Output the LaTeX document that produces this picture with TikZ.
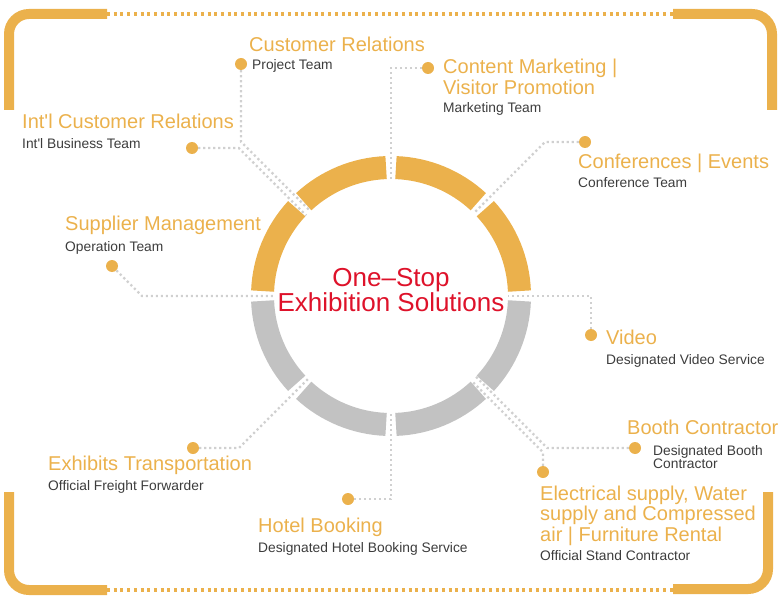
\documentclass[tikz,border=0pt]{standalone}
\usepackage{fontspec}
\setmainfont{Liberation Sans}
\usetikzlibrary{calc}
\definecolor{expoOrange}{RGB}{235,177,76}
\definecolor{expoGray}{RGB}{194,194,194}
\definecolor{expoRed}{RGB}{222,18,42}
\definecolor{expoText}{RGB}{60,60,60}
\definecolor{linkGray}{RGB}{208,208,208}

\begin{document}
\begin{tikzpicture}[
    x=1pt, y=-1pt,
    lbl/.style={anchor=base west, inner sep=0pt, text=expoOrange, align=left,
                font=\fontsize{20}{20.5}\selectfont},
    team/.style={anchor=base west, inner sep=0pt, text=expoText, align=left,
                 font=\fontsize{13.8}{13}\selectfont},
    hub/.style={circle, fill=expoOrange, minimum size=12pt, inner sep=0pt},
    link/.style={draw=linkGray, line width=2.2pt, dash pattern=on 2.2pt off 2.8pt},
    bracket/.style={draw=expoOrange, line width=10pt, rounded corners=20pt},
    rim/.style={draw=expoOrange, line width=3.2pt, dash pattern=on 3pt off 3.7pt}
]
\path[use as bounding box] (0,0) rectangle (781,604);

% ---- outer frame ----
\draw[bracket] (9,110) |- (107,14);
\draw[bracket] (673,14) -| (772,110);
\draw[bracket] (9,492) |- (107,590);
\draw[bracket] (673,589) -| (768,492);
\draw[rim] (107,14) -- (673,14);
\draw[rim] (107,590) -- (673,590);

% ---- ring, upper half orange, lower half gray ----
\coordinate (C) at (391,296);
\foreach \a/\col in {-180/expoOrange, -135/expoOrange, -90/expoOrange, -45/expoOrange,
                     0/expoGray, 45/expoGray, 90/expoGray, 135/expoGray}{%
  \draw[\col, line width=23pt] ($(C)+(\a+2.2:128.5)$)
      arc[start angle=\a+2.2, end angle=\a+42.8, radius=128.5];
}
\node[text=expoRed, align=center, font=\fontsize{26}{25}\selectfont] (core) at (391,290)
     {One--Stop\\Exhibition Solutions};

% ---- gap ends on the inner rim ----
\coordinate (g0)  at (508,296);
\coordinate (g45) at (473.7,213.3);
\coordinate (g90) at (391,179);
\coordinate (g135a) at (310.4,211.2);
\coordinate (g135b) at (306.2,215.4);
\coordinate (g180) at (274,296);
\coordinate (g225) at (308.3,378.7);
\coordinate (g270) at (391,413);
\coordinate (g315a) at (475.8,376.6);
\coordinate (g315b) at (471.6,380.8);

% ---- bends ----
\coordinate (b-vid) at (591,296);
\coordinate (b-conf) at (545,142);
\coordinate (b-cont) at (391,68);
\coordinate (b-cust) at (241,141.8);
\coordinate (b-intl) at (238.8,148);
\coordinate (b-sup) at (142,296);
\coordinate (b-exh) at (239,448);
\coordinate (b-hot) at (391,499);
\coordinate (b-boo) at (547.2,448);
\coordinate (b-ele) at (543,452.2);

% ---- dots ----
\node[hub] (d-cust) at (241,64) {};
\node[hub] (d-cont) at (428,68) {};
\node[hub] (d-intl) at (192,148) {};
\node[hub] (d-conf) at (585,142) {};
\node[hub] (d-sup) at (112,266) {};
\node[hub] (d-vid) at (591,335) {};
\node[hub] (d-boo) at (635,448) {};
\node[hub] (d-ele) at (543,472) {};
\node[hub] (d-hot) at (348,499) {};
\node[hub] (d-exh) at (193,448) {};

% ---- dotted connectors ----
\foreach \d/\b/\g in {vid/b-vid/g0, conf/b-conf/g45, cont/b-cont/g90,
                      cust/b-cust/g135a, intl/b-intl/g135b, sup/b-sup/g180,
                      exh/b-exh/g225, hot/b-hot/g270, boo/b-boo/g315a, ele/b-ele/g315b}{%
  \draw[link] (d-\d) -- (\b) -- (\g);
}

% ---- labels (multi-line ones sit on their last line) ----
\node[lbl] (t-cust) at (249,52) {Customer Relations};
\node[team] (s-cust) at (252,70) {Project Team};
\node[lbl] (t-cont) at (443,94.5) {Content Marketing |\\Visitor Promotion};
\node[team] (s-cont) at (443,113) {Marketing Team};
\node[lbl] (t-intl) at (22,129) {Int\textquotesingle l Customer Relations};
\node[team] (s-intl) at (22,149) {Int\textquotesingle l Business Team};
\node[lbl] (t-conf) at (578,168) {Conferences | Events};
\node[team] (s-conf) at (578,188) {Conference Team};
\node[lbl] (t-sup) at (65,230) {Supplier Management};
\node[team] (s-sup) at (65,251) {Operation Team};
\node[lbl] (t-vid) at (606,344) {Video};
\node[team] (s-vid) at (606,364) {Designated Video Service};
\node[lbl] (t-boo) at (627,434) {Booth Contractor};
\node[team] (s-boo) at (653,468) {Designated Booth\\Contractor};
\node[lbl] (t-ele) at (540,541) {Electrical supply, Water\\supply and Compressed\\air | Furniture Rental};
\node[team] (s-ele) at (540,560) {Official Stand Contractor};
\node[lbl] (t-hot) at (258,532) {Hotel Booking};
\node[team] (s-hot) at (258,552) {Designated Hotel Booking Service};
\node[lbl] (t-exh) at (48,470) {Exhibits Transportation};
\node[team] (s-exh) at (48,490) {Official Freight Forwarder};
\end{tikzpicture}
\end{document}
